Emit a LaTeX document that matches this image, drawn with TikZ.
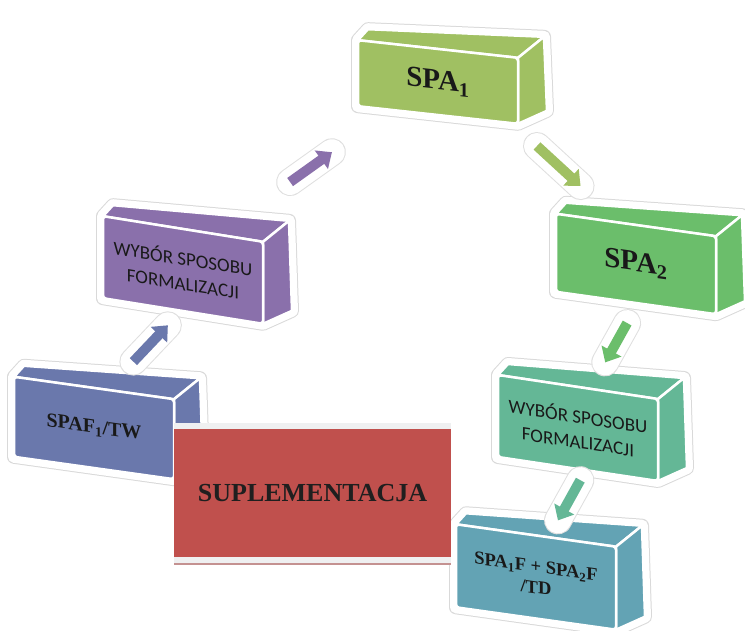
\documentclass[tikz,border=0pt]{standalone}
\usepackage{fontspec}
\setmainfont{Liberation Serif}
\newfontfamily\calibri{Carlito}
\usepackage{xcolor}
\usetikzlibrary{calc,arrows.meta}

\definecolor{spaone}{HTML}{A0C062}
\definecolor{spatwo}{HTML}{6BBE6B}
\definecolor{wyborp}{HTML}{8A70AB}
\definecolor{spaf}{HTML}{6A78AC}
\definecolor{wyborg}{HTML}{64B796}
\definecolor{spatd}{HTML}{63A3B4}
\definecolor{suplered}{HTML}{C0504D}
\definecolor{bandgray}{HTML}{EFF0F1}
\definecolor{bandline}{HTML}{C49291}

\tikzset{
  face/.style={fill=#1, draw=white, line width=2.5pt, line join=round},
  halo/.style={draw=gray!30, line width=14pt, line join=round, fill=white},
  haloin/.style={draw=white, line width=12pt, line join=round},
  conn/.style={draw=#1, line width=10pt, -{Triangle[width=22pt,length=13pt]}},
  connhalo/.style={draw=white, line width=26pt, line cap=round},
  connrim/.style={draw=gray!25, line width=28pt, line cap=round},
  serifbig/.style={font=\fontsize{29}{32}\selectfont\bfseries},
  serifmid/.style={font=\fontsize{20}{23}\selectfont\bfseries},
  seriftd/.style={font=\fontsize{18.5}{21}\selectfont\bfseries},
  sanstext/.style={font=\calibri\fontsize{19}{25}\selectfont},
}

% box: name, centre, height, slant, colour, text style, text
\newcommand{\cuboid}[7]{%
  \begin{scope}[shift={#2}, yslant=-#4]
    \path[halo] (-80,{#3/2}) -- (-80,{-#3/2}) -- (-70,{-#3/2-11-#4*10}) -- (106,{-#3/2-21-#4*26}) -- (109,{#3/2-13-#4*29}) -- (80,{#3/2}) -- cycle;
    \path[haloin] (-80,{#3/2}) -- (-80,{-#3/2}) -- (-70,{-#3/2-11-#4*10}) -- (106,{-#3/2-21-#4*26}) -- (109,{#3/2-13-#4*29}) -- (80,{#3/2}) -- cycle;
    \path[face=#5] (-80,{-#3/2}) -- (-70,{-#3/2-11-#4*10}) -- (106,{-#3/2-21-#4*26}) -- (80,{-#3/2}) -- cycle;
    \path[face=#5] (80,{-#3/2}) -- (106,{-#3/2-21-#4*26}) -- (109,{#3/2-13-#4*29}) -- (80,{#3/2}) -- cycle;
    \path[face=#5, rounded corners=3pt] (-80,{-#3/2}) rectangle (80,{#3/2});
    \node[transform shape, align=center, text=black!90, #6] (#1) at (0,0) {#7};
  \end{scope}}

% arrow between two boxes
\newcommand{\link}[3]{%
  \draw[connrim] (#1) -- (#2);
  \draw[connhalo] (#1) -- (#2);
  \draw[conn=#3] (#1) -- (#2);}

\begin{document}
\begin{tikzpicture}[x=1pt, y=-1pt]
    \useasboundingbox (0,0) rectangle (745,631);

    \cuboid{spaone}{(438,82)}{66}{0.11}{spaone}{serifbig}{SPA\textsubscript{1}}
    \cuboid{spatwo}{(636,264)}{78}{0.14}{spatwo}{serifbig}{SPA\textsubscript{2}}
    \cuboid{wyborp}{(183,270)}{82}{0.16}{wyborp}{sanstext}{WYBÓR SPOSOBU\\FORMALIZACJI}
    \cuboid{spaf}{(94,428)}{80}{0.14}{spaf}{serifmid}{SPAF\textsubscript{1}/TW}
    \cuboid{wyborg}{(578,428)}{82}{0.15}{wyborg}{sanstext}{WYBÓR SPOSOBU\\FORMALIZACJI}
    \cuboid{spatd}{(536,577)}{83}{0.14}{spatd}{seriftd}{SPA\textsubscript{1}F + SPA\textsubscript{2}F\\/TD}

    % cycle arrows
    \link{$(spaone)!0.5!(spatwo)+(0,-27)$}{$(spaone)!0.72!(spatwo)+(0,-27)$}{spaone}
    \link{$(spatwo)!0.36!(wyborg)+(12,0)$}{$(spatwo)!0.6!(wyborg)+(4,0)$}{spatwo}
    \link{$(wyborg)!0.35!(spatd)+(17,0)$}{$(wyborg)!0.62!(spatd)+(6,0)$}{wyborg}
    \link{$(spaf)!0.42!(wyborp)+(2,0)$}{$(spaf)!0.65!(wyborp)+(16,0)$}{spaf}
    \link{$(wyborp)!0.42!(spaone)+(0,-9)$}{$(wyborp)!0.584!(spaone)+(0,-8)$}{wyborp}

    \node(suple) [fill=suplered, minimum width=277pt, minimum height=128pt, inner sep=0pt, text=black!88, font=\fontsize{26}{29}\selectfont\bfseries] at (312.5,493) {SUPLEMENTACJA};
    \fill[bandgray] (suple.north west) rectangle ($(suple.north east)+(0,-6)$);
    \fill[bandgray] (suple.south west) rectangle ($(suple.south east)+(0,6)$);
    \fill[bandline] ($(suple.south west)+(0,6)$) rectangle ($(suple.south east)+(0,7.5)$);
\end{tikzpicture}
\end{document}
